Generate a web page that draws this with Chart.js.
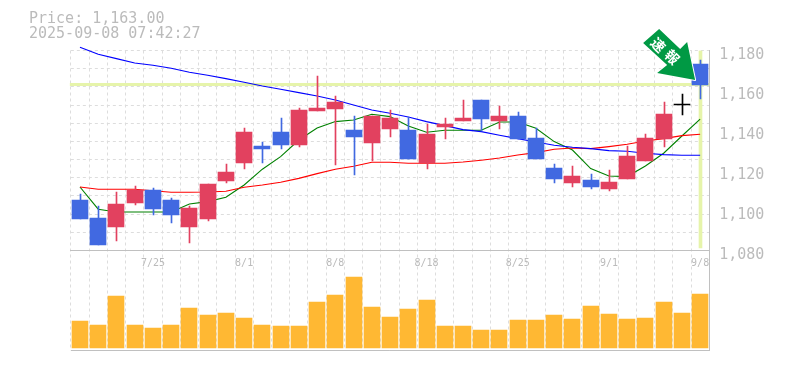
<!DOCTYPE html>
<html>
<head>
<meta charset="utf-8">
<style>html,body{margin:0;padding:0;background:#fff}canvas{display:block}</style>
<script src="https://cdn.jsdelivr.net/npm/chart.js@4/dist/chart.umd.min.js"></script>
</head>
<body>
<canvas id="c" width="785" height="370"></canvas>
<script>
const dates = ['7/18','7/22','7/23','7/24','7/25','7/28','7/29','7/30','7/31','8/1','8/4','8/5','8/6','8/7','8/8','8/12','8/13','8/14','8/15','8/18','8/19','8/20','8/21','8/22','8/25','8/26','8/27','8/28','8/29','9/1','9/2','9/3','9/4','9/5','9/8'];
const tickDates = ['7/25','8/1','8/8','8/18','8/25','9/1','9/8'];
const priceTicks = [1180,1160,1140,1120,1100,1080];
const open  = [1105,1096,1091.5,1103.5,1110,1105,1091.5,1095.5,1114.5,1123.5,1132,1139,1132.5,1149.5,1150.5,1140,1133.5,1140.5,1140,1123.5,1141.5,1144.5,1155,1144.5,1147,1136,1121,1113.5,1115,1110.5,1115.5,1124.5,1135.5,1153,1173];
const high  = [1108,1102,1109,1112,1111,1106,1102,1113,1123,1141,1134,1146,1151,1167,1157,1147,1147,1150,1146.5,1143,1146,1155,1155,1152,1149,1141,1123,1122,1118,1120,1132,1138,1154,1158,1175];
const low   = [1095.5,1082.5,1084.5,1102.5,1097.5,1093.5,1083.5,1094.5,1113.5,1120.5,1123.5,1130.5,1131.5,1149.5,1122.5,1117.5,1124.5,1136.5,1125.5,1120.5,1135.5,1144.5,1139.5,1140.5,1135.5,1125.5,1113.5,1111.5,1110.5,1109.5,1115.5,1124.5,1131.5,1147.5,1155.5];
const close = [1095.5,1082.5,1103,1110,1100.5,1097.5,1101,1113,1119,1139,1130.5,1132.5,1150,1151,1154,1136.5,1147,1146,1125.5,1138,1143,1146,1145.5,1147,1135.5,1125.5,1115.5,1117,1111.5,1114,1127,1136,1148,1153,1162.5];
const volume = [27,23,52,23,20,23,40,33,35,30,23,22,22,46,53,71,41,31,39,48,22,22,18,18,28,28,33,29,42,34,29,30,46,35,54];
const maShort = [1111.5,1100.4,1099,1099,1099,1099,1103,1104.2,1106.4,1112.5,1120.4,1126.7,1135,1141,1144.2,1145,1147.9,1146.7,1142,1138.9,1139.9,1139.9,1139.9,1144,1144,1140.9,1134.2,1130,1120.7,1117,1116.7,1122,1128.4,1137,1145.4];
const maMid = [1111.5,1110.4,1110.4,1110.4,1109.6,1108.9,1108.9,1109,1109.4,1111.4,1112.5,1113.9,1115.8,1118.2,1120.4,1121.9,1123.9,1123.9,1123.4,1123.4,1123.4,1124,1124.9,1126,1127.5,1128.7,1130.4,1131,1130.7,1131.7,1132.9,1134.5,1135.7,1137.2,1137.9];
const maLong = [1181.4,1177.9,1175.7,1173.5,1172.4,1170.9,1168.9,1167.4,1165.7,1163.9,1162,1160.4,1158.7,1157,1155,1152.5,1150,1148.4,1146.5,1144.2,1142.2,1140.2,1139.2,1137.4,1135.7,1134,1132.4,1131.4,1130.7,1129.7,1129.4,1128.4,1127.7,1127.4,1127.4];
const currentPrice = 1163;
const headerLines = ['Price: 1,163.00','2025-09-08 07:42:27'];
const badgeChars = ['速','報'];

const RED='#e2415f', BLUE='#4169e1', BLACK='#000000', VOL='#ffb833', GRID='#dddddd', AXIS='#c0c0c0', TEXT='#bbbbbb', BAND='#e6f4aa', ARROW='#009944';
const MONO='"DejaVu Sans Mono", monospace';
const lastIdx = dates.length-1;

const bodyColors = open.map((o,i)=> close[i]>o ? RED : close[i]<o ? BLUE : BLACK);
// A doji has no body height of its own: show it as a one pixel bar.
const bodies = open.map((o,i)=> o===close[i] ? [o-0.5,o] : [o,close[i]]);
const wicks = low.map((l,i)=>[l,high[i]]);
const markerBand = dates.map((d,i)=> i===lastIdx ? [1081,1179.75] : null);

const lineDs = (data,color)=>({type:'line',data,borderColor:color,borderWidth:1.1,pointRadius:0,tension:0,yAxisID:'y',order:4,clip:false});

const pricePlugin = {
  id:'priceExtras',
  afterDatasetsUpdate(chart){
    chart.data.datasets.forEach((ds,i)=>{
      if(ds.type==='line') return;
      chart.getDatasetMeta(i).data.forEach(el=>{ el.x = Math.round(el.x) + (ds.nudge||0); });
    });
  },
  beforeDatasetsDraw(chart){
    const {ctx,chartArea,scales}=chart;
    const y=Math.round(scales.y.getPixelForValue(currentPrice));
    ctx.save();
    ctx.fillStyle=BAND;
    ctx.fillRect(chartArea.left-1,y-1,chartArea.right-chartArea.left+1,3);
    ctx.restore();
  },
  afterDatasetsDraw(chart){
    const {ctx,scales}=chart;
    const tx=scales.x.getPixelForValue(lastIdx)-5, ty=scales.y.getPixelForValue(currentPrice)-4;
    const pts=[[0,0],[-38,-7],[-28,-15],[-52,-37],[-36,-51],[-15,-31],[-8,-38]];
    ctx.save();
    ctx.beginPath();
    pts.forEach((p,i)=> i? ctx.lineTo(tx+p[0],ty+p[1]) : ctx.moveTo(tx+p[0],ty+p[1]));
    ctx.closePath();
    ctx.lineJoin='round';
    ctx.strokeStyle='#ffffff'; ctx.lineWidth=2; ctx.stroke();
    ctx.fillStyle=ARROW; ctx.fill();
    ctx.fillStyle='#ffffff';
    ctx.font='bold 14px "Noto Sans CJK JP"';
    ctx.textAlign='center'; ctx.textBaseline='middle';
    [[-37,-35],[-23,-23]].forEach((o,i)=>{
      ctx.save();
      ctx.translate(tx+o[0],ty+o[1]);
      ctx.rotate(Math.PI/4);
      ctx.fillText(badgeChars[i],0,0);
      ctx.restore();
    });
    ctx.restore();
  },
  afterDraw(chart){
    const {ctx}=chart;
    ctx.save();
    ctx.fillStyle=TEXT;
    ctx.font='15px '+MONO;
    ctx.textAlign='left'; ctx.textBaseline='middle';
    headerLines.forEach((t,i)=>ctx.fillText(t,29,19+i*15));
    ctx.restore();
  }
};

const chartObj = new Chart(document.getElementById('c').getContext('2d'),{
  data:{
    labels:dates,
    datasets:[
      {type:'bar',data:markerBand,backgroundColor:BAND,barThickness:3,yAxisID:'y',order:6,nudge:0.5,grouped:false},
      lineDs(maLong,'#0000ff'),
      lineDs(maMid,'#ff0000'),
      lineDs(maShort,'#008000'),
      {type:'bar',data:wicks,backgroundColor:bodyColors,barThickness:1,yAxisID:'y',order:3,nudge:0.5,grouped:false},
      {type:'bar',data:bodies,backgroundColor:bodyColors,barThickness:16,yAxisID:'y',order:2,grouped:false},
      {type:'bar',data:volume,backgroundColor:VOL,barThickness:16,yAxisID:'yVol',order:1,grouped:false}
    ]
  },
  plugins:[pricePlugin],
  options:{
    responsive:false,animation:false,
    events:[],
    layout:{padding:{left:70.85,top:50.5,right:0,bottom:19.5}},
    plugins:{legend:{display:false},title:{display:false},tooltip:{enabled:false}},
    scales:{
      x:{
        type:'category',position:{y:1080},offset:true,
        grid:{display:true,offset:true,color:GRID,drawTicks:false,lineWidth:1},
        border:{display:true,color:AXIS,width:1,dash:[3,3]},
        ticks:{autoSkip:false,maxRotation:0,minRotation:0,padding:7,color:TEXT,font:{family:MONO,size:10},
          callback(v,i){const d=dates[i];return tickDates.includes(d)?d:'';}}
      },
      y:{
        type:'linear',position:'right',stack:'p',stackWeight:2,min:1079.75,max:1179.75,
        afterFit(s){s.width=75.75;},
        afterBuildTicks(s){
          const gridTicks=[];
          for(let i=0;i<=11;i++) gridTicks.push({value:1179.75-i*100/11,gridOnly:true});
          s.ticks=gridTicks.concat(priceTicks.map(v=>({value:v})));
        },
        grid:{drawTicks:false,lineWidth:1,color:c=>c.tick&&c.tick.gridOnly?GRID:'rgba(0,0,0,0)'},
        border:{display:true,color:AXIS,width:1,dash:[3,3]},
        ticks:{autoSkip:false,padding:10,labelOffset:5,color:TEXT,font:{family:MONO,size:15},
          callback(v){return priceTicks.includes(v)?v.toLocaleString('en-US'):'';}}
      },
      yVol:{
        type:'linear',position:'right',stack:'p',stackWeight:1,min:-2.5,max:97.5,
        afterFit(s){s.width=75.75;},
        afterBuildTicks(s){s.ticks=[{value:-2.5}];},
        grid:{drawTicks:false,color:AXIS,lineWidth:1},
        border:{display:true,color:AXIS,width:1},
        ticks:{display:false}
      }
    }
  }
});
</script>
</body>
</html>
